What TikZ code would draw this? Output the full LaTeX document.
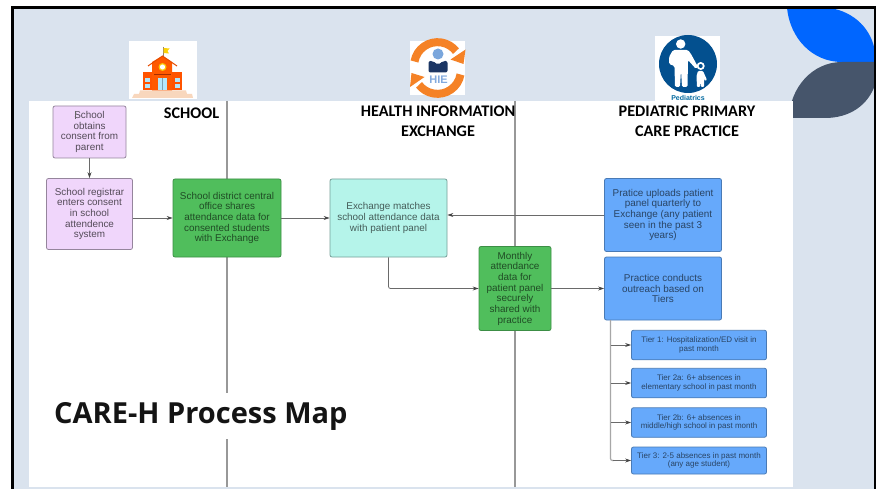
\documentclass[tikz,border=0pt]{standalone}
\usepackage{fontspec}
\setmainfont{Liberation Sans}
\newfontfamily\headfont{Carlito}
\newfontfamily\titlefont{Open Sans}
\usetikzlibrary{arrows.meta}
\definecolor{slide}{HTML}{DAE3EE}
\definecolor{lane}{HTML}{989898}
\definecolor{conn}{HTML}{6A6A6A}
\definecolor{tip}{HTML}{444444}
\definecolor{purplefill}{HTML}{F0D6FB}
\definecolor{greenfill}{HTML}{50BE5C}
\definecolor{tealfill}{HTML}{B5F4EA}
\definecolor{bluefill}{HTML}{66A9FB}
\definecolor{hieorange}{HTML}{F58226}
\definecolor{pedblue}{HTML}{03508F}
\tikzset{
  flowbox/.style={rounded corners=2pt,draw=#1,line width=0.8pt,align=center,inner sep=0pt,font=\fontsize{9.9}{10.65}\selectfont},
  purplebox/.style={flowbox=black!38!purplefill,fill=purplefill,text=black!65!purplefill},
  greenbox/.style={flowbox=black!25!greenfill,fill=greenfill,text=black!60!greenfill},
  tealbox/.style={flowbox=black!35!tealfill,fill=tealfill,text=black!62!tealfill},
  bluebox/.style={flowbox=black!28!bluefill,fill=bluefill,text=black!60!bluefill},
  tierbox/.style={bluebox,font=\fontsize{8}{8.8}\selectfont},
  heading/.style={font=\headfont\bfseries\fontsize{16.2}{19.7}\selectfont,align=center,inner sep=0pt,text=black},
  connector/.style={draw=conn,line width=0.8pt,-{Stealth[length=6pt,width=4pt,color=tip]}},
  lanerule/.style={draw=lane,line width=1.1pt},
}
\begin{document}
\begin{tikzpicture}[x=1pt,y=-1pt]
\useasboundingbox (0,0) rectangle (878,489);
% slide
\fill[white] (0,0) rectangle (878,489);
\fill[slide] (12,7) rectangle (875,489);
% decorative leaves
\fill[fill={rgb,255:red,0;green,102;blue,255}] (787,8) .. controls (790,38) and (812,62) .. (842,62) -- (875,62) -- (875,52) .. controls (872,30) and (855,12) .. (830,8) -- cycle;
\fill[fill={rgb,255:red,70;green,85;blue,107}] (789,118) .. controls (790,88) and (812,62) .. (842,62) -- (875,62) -- (875,85) .. controls (868,105) and (850,118) .. (825,118) -- cycle;
% frame
\draw[black,line width=2.6pt] (12.5,489) -- (12.5,7.3) -- (874.8,7.3) -- (874.8,489);
% white panel
\fill[white] (29,101) rectangle (793,487);
% lane rules
\coordinate (laneAtop) at (227,101);
\coordinate (laneAbot) at (227,487);
\coordinate (laneBtop) at (515,101);
\coordinate (laneBbot) at (515,487);
\draw[lanerule] (laneAtop) -- (laneAbot);
\draw[lanerule] (laneBtop) -- (laneBbot);
% school icon
\fill[white] (129,41) rectangle (197,99);
\fill[black!5!hieorange!30!white] (132,98) -- (134,94) -- (139,94) -- (140,90.5) -- (186,90.5) -- (187,94) -- (192,94) -- (193,98) -- cycle;
\draw[gray!80!orange,line width=0.8pt] (163,47) -- (163,57);
\fill[yellow!70!orange] (163.5,48) -- (169.5,48.5) -- (167.5,51) -- (169,53.5) -- (163.5,53) -- cycle;
\fill[orange!65!red] (143,72.5) rectangle (182,90.5);
\fill[orange!70!red] (152,62) -- (162.5,56) -- (172,62) -- (172,90.5) -- (152,90.5) -- cycle;
\draw[orange!65!red!90!black,line width=1pt] (148,66) -- (162.5,56) -- (177,66);
\fill[yellow!60!orange] (162.5,67) circle (4);
\fill[white] (162.5,67) circle (2.6);
\fill[cyan!30!white] (158,78) rectangle (167,90.5);
\draw[gray!70!cyan,line width=0.3pt] (162.5,78) -- (162.5,90.5);
\fill[orange!50!black!70!red] (154,74) rectangle (171,75);
\foreach \wx/\wy in {145/78,145/84.5,175/78,175/84.5}{\fill[cyan!30!white] (\wx,\wy) rectangle ++(5,4);}
% HIE icon
\fill[white] (410,41) rectangle (465,95);
\draw[hieorange,line width=8pt] (414.5,61.5) arc[start angle=-170,end angle=-38,radius=23.4];
\fill[hieorange] (465.5,49.5) -- (463.5,64) -- (450.5,59.5) -- cycle;
\draw[hieorange,line width=8pt] (460.5,74.5) arc[start angle=10,end angle=142,radius=23.4];
\fill[hieorange] (410,87) -- (411.5,73) -- (424.5,77) -- cycle;
\fill[fill={rgb,255:red,122;green,166;blue,220}] (438,54) circle (5.5);
\fill[fill={rgb,255:red,28;green,54;blue,100},rounded corners=2pt] (428.5,61) -- (433,61) -- (438,65) -- (443,61) -- (447.5,61) -- (447.5,72.5) -- (428.5,72.5) -- cycle;
\node[font=\bfseries\fontsize{11}{11}\selectfont,text={rgb,255:red,130;green,170;blue,222},inner sep=0pt] (hielabel) at (438.5,79.5) {HIE};
% pediatrics icon
\fill[white] (655,36) rectangle (720,101);
\fill[pedblue] (688,64) circle (29);
\fill[white] (680.7,44) circle (4.7);
\fill[white,rounded corners=1.5pt] (673,50) -- (688,50) -- (691,54) -- (698,67) -- (696,69) -- (688,60) -- (687.5,87) -- (682,87) -- (681,70) -- (680,87) -- (675,87) -- (674.5,66) -- (669,64) -- (669,57) -- cycle;
\fill[white] (700.7,66) circle (4);
\fill[pedblue] (700.7,66) circle (2);
\fill[white,rounded corners=1pt] (698,71) -- (703,71) -- (707,80) -- (705,81) -- (704,78) -- (704,87) -- (701,87) -- (700.5,81) -- (700,87) -- (697,87) -- (696.5,76) -- cycle;
\node[font=\bfseries\fontsize{7}{7}\selectfont,text=pedblue!85!cyan,inner sep=0pt] (pedlabel) at (688,97.5) {Pediatrics};
% headings
\node[heading] (hschool) at (191.5,113) {SCHOOL};
\node[heading] (hhie) at (438,121) {HEALTH INFORMATION\\EXCHANGE};
\node[heading] (hped) at (687,121.5) {PEDIATRIC PRIMARY\\CARE PRACTICE};
% boxes
\node[purplebox,minimum width=73pt,minimum height=52pt] (consent) at (89.5,132) {School\\obtains\\consent from\\parent};
\node[purplebox,minimum width=86pt,minimum height=71pt] (registrar) at (89.5,214) {School registrar\\enters consent\\in school\\attendence\\system};
\node[greenbox,minimum width=108pt,minimum height=78pt] (district) at (227,218) {School district central\\office shares\\attendance data for\\consented students\\with Exchange};
\node[tealbox,minimum width=117pt,minimum height=78pt] (matches) at (388.5,218) {Exchange matches\\school attendance data\\with patient panel};
\node[greenbox,minimum width=72pt,minimum height=84pt] (monthly) at (515,288.5) {Monthly\\attendance\\data for\\patient panel\\securely\\shared with\\practice};
\node[bluebox,minimum width=117pt,minimum height=73pt] (uploads) at (663,215) {Pratice uploads patient\\panel quarterly to\\Exchange (any patient\\seen in the past 3\\years)};
\node[bluebox,minimum width=117pt,minimum height=63pt] (outreach) at (663,288.5) {Practice conducts\\outreach based on\\Tiers};
\node[tierbox,minimum width=135pt,minimum height=29.5pt] (tierone) at (699,345) {Tier 1: Hospitalization/ED visit in\\past month};
\node[tierbox,minimum width=135pt,minimum height=29.5pt] (tiertwoa) at (699,383) {Tier 2a: 6+ absences in\\elementary school in past month};
\node[tierbox,minimum width=135pt,minimum height=29.5pt] (tiertwob) at (699,422.5) {Tier 2b: 6+ absences in\\middle/high school in past month};
\node[tierbox,minimum width=135pt,minimum height=27pt] (tierthree) at (699,460.5) {Tier 3: 2-5 absences in past month\\(any age student)};
% text caret in first box
\draw[black!60,line width=0.4pt] (75,111) -- (75,119.5);
% connectors
\draw[connector] (consent) -- (registrar);
\draw[connector] (registrar.east |- district.west) -- (district.west);
\draw[connector] (district.east) -- (matches.west);
\draw[connector] (uploads.west) -- (matches.east |- uploads.west);
\draw[connector,rounded corners=2pt] (matches.south) |- (monthly.west);
\draw[connector] (monthly.east) -- (outreach.west);
\coordinate (fanout) at (610.5,320);
\draw[draw=lane!85!white,line width=1.2pt,rounded corners=2pt] (fanout) |- ++(3,140.5);
\draw[connector] (fanout |- tierone.west) -- (tierone.west);
\draw[connector] (fanout |- tiertwoa.west) -- (tiertwoa.west);
\draw[connector] (fanout |- tiertwob.west) -- (tiertwob.west);
\draw[connector] (fanout |- tierthree.west) ++(2,0) -- (tierthree.west);
% title
\node[font=\titlefont\bfseries\fontsize{29}{34}\selectfont,fill=white,inner xsep=1pt,inner ysep=0pt,minimum height=46pt,anchor=west,text=black!92] (title) at (53,416) {\raisebox{-3pt}{CARE-H Process Map}};
\end{tikzpicture}
\end{document}
